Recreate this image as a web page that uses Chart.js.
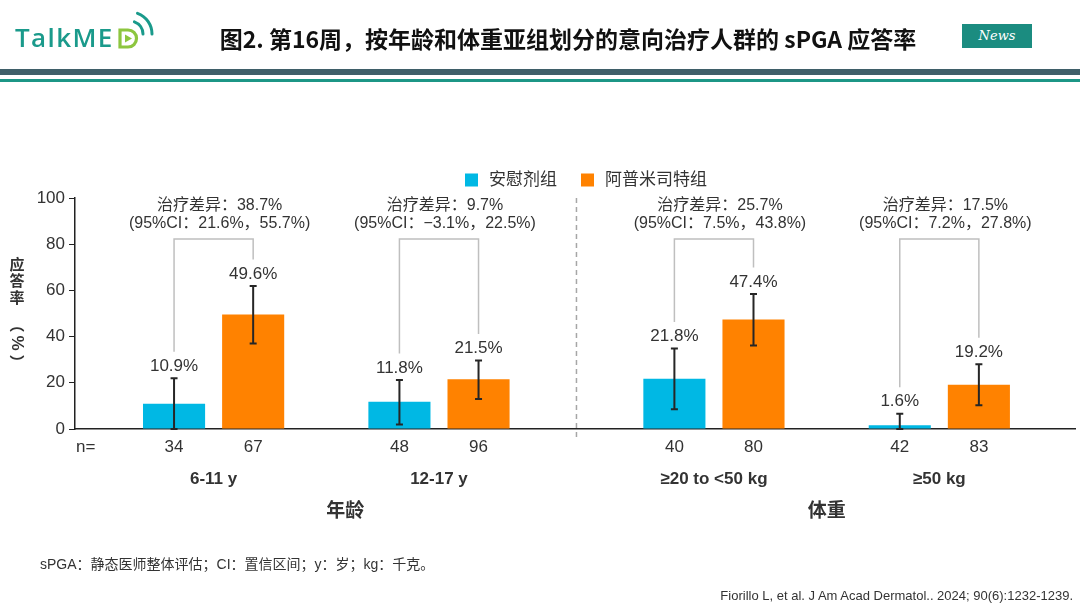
<!DOCTYPE html>
<html lang="zh-CN">
<head>
<meta charset="utf-8">
<title>sPGA 应答率</title>
<script src="https://cdn.jsdelivr.net/npm/chart.js@4.4.1/dist/chart.umd.min.js"></script>
<style>
  html, body { margin: 0; padding: 0; background: #fff; }
  #page { position: relative; width: 1080px; height: 608px; overflow: hidden; color: #333;
          font-family: "Liberation Sans", "Noto Sans CJK SC", sans-serif; }
  #chart { position: absolute; left: 0; top: 0; }
  .logo { position: absolute; left: 15px; top: 24px; font-family: "Open Sans", sans-serif; font-weight: 600;
          font-size: 26px; line-height: 26px; color: #1a9a8b; letter-spacing: 1.4px; }
  .logo-mark { position: absolute; left: 116px; top: 10px; }
  .title { position: absolute; left: 168px; width: 800px; top: 22px; text-align: center;
           font-family: "Noto Sans CJK SC", sans-serif; font-weight: bold; font-size: 23px;
           line-height: 32px; color: #111; }
  .news { position: absolute; left: 962px; top: 24px; width: 70px; height: 24px; background: #1b8c80;
          color: #fff; font-family: "DejaVu Serif", "Liberation Serif", serif; font-style: italic;
          font-size: 13px; line-height: 24px; text-align: center; }
  .band1 { position: absolute; left: 0; top: 69px; width: 1080px; height: 6px; background: #3f5f69; }
  .band2 { position: absolute; left: 0; top: 79px; width: 1080px; height: 3px; background: #1c9686; }
  .note { position: absolute; left: 40px; top: 553px; font-family: "Liberation Sans", "Noto Sans CJK SC", sans-serif;
          font-size: 14px; color: #333; }
  .cite { position: absolute; right: 7px; top: 588px; font-family: "Liberation Sans Narrow", "Liberation Sans", sans-serif;
          font-size: 13px; color: #333; }
</style>
</head>
<body>
<div id="page">
  <canvas id="chart" width="1080" height="608"></canvas>
  <div class="logo">TalkME</div>
  <svg class="logo-mark" width="45" height="42" viewBox="0 0 45 42">
    <path d="M4 20 h8 a8.5 8.5 0 0 1 0 17 h-8 z" fill="none" stroke="#8dc63f" stroke-width="3.2"/>
    <polygon points="9,24.5 9,32.5 16,28.5" fill="#8dc63f"/>
    <path d="M18.4 11.8 A13 13 0 0 1 27 24" fill="none" stroke="#1a9a8b" stroke-width="3" stroke-linecap="round"/>
    <path d="M21.5 3.3 A22 22 0 0 1 36 24" fill="none" stroke="#1a9a8b" stroke-width="3" stroke-linecap="round"/>
  </svg>
  <div class="title">图2. 第16周，按年龄和体重亚组划分的意向治疗人群的 sPGA 应答率</div>
  <div class="news">News</div>
  <div class="band1"></div>
  <div class="band2"></div>
  <div class="note">sPGA：静态医师整体评估；CI：置信区间；y：岁；kg：千克。</div>
  <div class="cite">Fiorillo L, et al. J Am Acad Dermatol.. 2024; 90(6):1232-1239.</div>
</div>
<script>
const groups = ['6-11 y', '12-17 y', '≥20 to <50 kg', '≥50 kg'];
const sections = ['年龄', '体重'];
const seriesNames = ['安慰剂组', '阿普米司特组'];
const seriesColors = ['#00b8e4', '#ff8200'];

const placeboRate = [10.9, 11.8, 21.8, 1.6];
const drugRate = [49.6, 21.5, 47.4, 19.2];
const placeboCiLow = [0, 2.0, 8.5, 0];
const placeboCiHigh = [22.0, 21.2, 34.8, 6.6];
const drugCiLow = [37.0, 13.0, 36.1, 10.3];
const drugCiHigh = [61.9, 29.7, 58.4, 28.0];
const placeboN = [34, 48, 40, 42];
const drugN = [67, 96, 80, 83];

const diffRate = [38.7, 9.7, 25.7, 17.5];
const diffCiLow = [21.6, -3.1, 7.5, 7.2];
const diffCiHigh = [55.7, 22.5, 43.8, 27.8];

const yTickStep = 20;
const yMax = 100;

const fontFamily = '"Liberation Sans", "Noto Sans CJK SC", sans-serif';
Chart.defaults.font.family = fontFamily;
Chart.defaults.color = '#333';

// the weight groups sit a little further right, past the dashed divider
const sectionGap = 0.22;
function groupPos(i) {
    return i + (i >= 2 ? sectionGap : 0);
}

function pct(v) {
    return (v < 0 ? '−' + Math.abs(v).toFixed(1) : v.toFixed(1)) + '%';
}

const lows = [placeboCiLow, drugCiLow];
const highs = [placeboCiHigh, drugCiHigh];
const counts = [placeboN, drugN];
const rates = [placeboRate, drugRate];

const annotations = {
    id: 'annotations',
    beforeDatasetsDraw(chart) {
        const {ctx, chartArea, scales: {x}} = chart;
        const dx = x.getPixelForValue((groupPos(1) + groupPos(2)) / 2);
        ctx.save();
        ctx.strokeStyle = '#a6a6a6';
        ctx.lineWidth = 1.5;
        ctx.setLineDash([5, 4]);
        ctx.beginPath();
        ctx.moveTo(dx, chartArea.top);
        ctx.lineTo(dx, chartArea.bottom + 8);
        ctx.stroke();
        ctx.restore();
    },
    afterDatasetsDraw(chart) {
        const {ctx, scales: {y}} = chart;
        ctx.save();
        ctx.textAlign = 'center';
        ctx.textBaseline = 'middle';
        const labelY = [[], []];
        for (let d = 0; d < 2; d++) {
            const meta = chart.getDatasetMeta(d);
            meta.data.forEach((bar, i) => {
                const top = y.getPixelForValue(highs[d][i]);
                const bottom = y.getPixelForValue(lows[d][i]);
                ctx.strokeStyle = '#262626';
                ctx.lineWidth = 2;
                ctx.beginPath();
                ctx.moveTo(bar.x, top);
                ctx.lineTo(bar.x, bottom);
                ctx.moveTo(bar.x - 3.5, top);
                ctx.lineTo(bar.x + 3.5, top);
                ctx.moveTo(bar.x - 3.5, bottom);
                ctx.lineTo(bar.x + 3.5, bottom);
                ctx.stroke();
                labelY[d][i] = top - 12;
                ctx.fillStyle = '#333';
                ctx.font = '17px ' + fontFamily;
                ctx.fillText(pct(rates[d][i]), bar.x, labelY[d][i]);
            });
        }
        const left = chart.getDatasetMeta(0).data;
        const right = chart.getDatasetMeta(1).data;
        const bracketY = y.getPixelForValue(82.2);
        const textY = y.getPixelForValue(yMax);
        groups.forEach((g, i) => {
            const x0 = left[i].x, x1 = right[i].x;
            ctx.strokeStyle = '#bfbfbf';
            ctx.lineWidth = 1.5;
            ctx.beginPath();
            ctx.moveTo(x0, labelY[0][i] - 14.5);
            ctx.lineTo(x0, bracketY);
            ctx.lineTo(x1, bracketY);
            ctx.lineTo(x1, labelY[1][i] - 14.5);
            ctx.stroke();
            const cx = (x0 + x1) / 2 + 6;
            ctx.fillStyle = '#333';
            ctx.font = '16px ' + fontFamily;
            ctx.fillText('治疗差异：' + pct(diffRate[i]), cx, textY + 8);
            ctx.fillText('(95%CI：' + pct(diffCiLow[i]) + '，' + pct(diffCiHigh[i]) + ')', cx, textY + 26);
        });
        ctx.restore();
    },
    afterDraw(chart) {
        const {ctx, chartArea} = chart;
        ctx.save();
        ctx.textBaseline = 'middle';
        ctx.fillStyle = '#333';

        // legend
        ctx.font = '17px ' + fontFamily;
        const box = 13, gapBox = 11, gapItem = 24;
        const widths = seriesNames.map(n => ctx.measureText(n).width);
        const total = widths.reduce((s, w) => s + w + box + gapBox, 0) + gapItem;
        let lx = (chartArea.left + chartArea.right) / 2 + 11 - total / 2;
        const ly = 180;
        seriesNames.forEach((name, k) => {
            ctx.fillStyle = seriesColors[k];
            ctx.fillRect(lx, ly - box / 2, box, box);
            ctx.fillStyle = '#333';
            ctx.textAlign = 'left';
            ctx.fillText(name, lx + box + gapBox, ly);
            lx += box + gapBox + widths[k] + gapItem;
        });

        // vertical y title, CJK upright, "%" turned
        ctx.textAlign = 'center';
        ctx.font = 'bold 15px "Noto Sans CJK SC", sans-serif';
        ['应', '答', '率'].forEach((c, k) => ctx.fillText(c, 17, 264 + k * 16.5));
        ctx.fillText('︵', 17, 324);
        ctx.fillText('︶', 17, 362);
        ctx.save();
        ctx.translate(17, 343);
        ctx.rotate(Math.PI / 2);
        ctx.font = 'bold 17px ' + fontFamily;
        ctx.fillText('%', 0, 0);
        ctx.restore();

        // n row, group and section labels
        const base = chartArea.bottom;
        ctx.font = '17px ' + fontFamily;
        ctx.textAlign = 'left';
        ctx.fillText('n=', chartArea.left + 1, base + 18);
        ctx.textAlign = 'center';
        const centers = [];
        for (let d = 0; d < 2; d++) {
            chart.getDatasetMeta(d).data.forEach((bar, i) => {
                ctx.font = '17px ' + fontFamily;
                ctx.fillText(String(counts[d][i]), bar.x, base + 18);
                centers[i] = (centers[i] || 0) + bar.x / 2;
            });
        }
        ctx.font = 'bold 17px ' + fontFamily;
        groups.forEach((g, i) => ctx.fillText(g, centers[i], base + 50));
        ctx.font = 'bold 19px ' + fontFamily;
        ctx.fillText(sections[0], (centers[0] + centers[1]) / 2 + 19, base + 83);
        ctx.fillText(sections[1], (centers[2] + centers[3]) / 2, base + 83);
        ctx.restore();
    }
};

new Chart(document.getElementById('chart'), {
    type: 'bar',
    data: {
        datasets: [
            {
                label: seriesNames[0],
                data: placeboRate.map((v, i) => ({x: groupPos(i), y: v})),
                backgroundColor: seriesColors[0]
            },
            {
                label: seriesNames[1],
                data: drugRate.map((v, i) => ({x: groupPos(i), y: v})),
                backgroundColor: seriesColors[1]
            }
        ]
    },
    options: {
        responsive: false,
        animation: false,
        categoryPercentage: 0.702,
        barPercentage: 0.785,
        layout: {padding: {left: 0, right: 5, top: 198, bottom: 179}},
        plugins: {
            legend: {display: false},
            tooltip: {enabled: false}
        },
        scales: {
            x: {
                type: 'linear',
                min: -0.615,
                max: 3.822,
                offset: false,
                afterBuildTicks: s => { s.ticks = groups.map((g, i) => ({value: groupPos(i)})); },
                afterFit: s => { s.height = 0; },
                ticks: {display: false},
                grid: {display: false},
                border: {color: '#222', width: 1.5}
            },
            y: {
                min: 0,
                max: yMax,
                afterFit: s => { s.width = 75; },
                ticks: {stepSize: yTickStep, color: '#333', font: {size: 17}, padding: 4},
                grid: {drawOnChartArea: false, tickLength: 6, color: '#222'},
                border: {color: '#222', width: 1.5}
            }
        }
    },
    plugins: [annotations]
});
</script>
</body>
</html>
